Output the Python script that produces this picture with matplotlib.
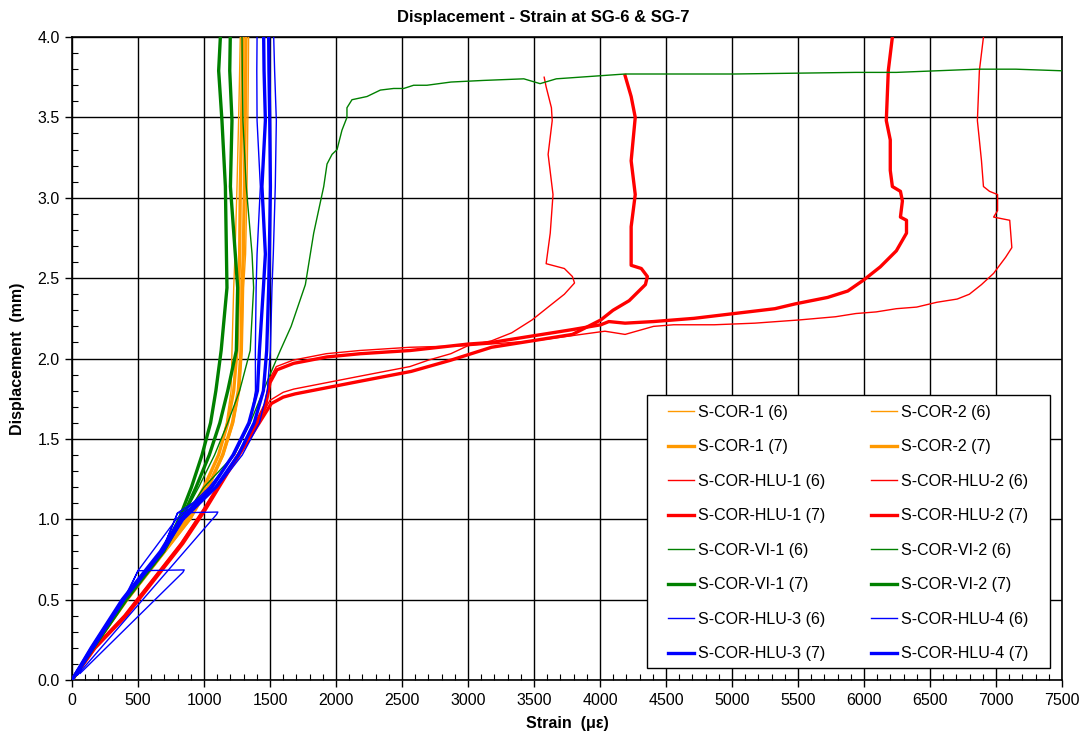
import matplotlib
matplotlib.use("Agg")
import matplotlib.pyplot as plt
from matplotlib.patches import Rectangle
from matplotlib.ticker import MultipleLocator, FormatStrFormatter

plt.rcParams["font.family"] = ["Liberation Sans", "DejaVu Sans"]

# ---- data (strain in micro-strain, displacement in mm) ----
lo_y = [0, 0.2, 0.5, 0.8, 1.0, 1.2, 1.4, 1.6, 1.8, 2.05, 2.44, 2.65, 3.07, 3.48, 3.79, 4.0]

cor1_6_x = [0, 160, 420, 700, 880, 1010, 1110, 1170, 1205, 1212, 1225, 1235, 1250, 1262, 1270, 1275]
cor1_7_x = [0, 155, 410, 690, 870, 1000, 1110, 1180, 1225, 1250, 1263, 1270, 1275, 1285, 1290, 1295]
cor2_6_x = [0, 165, 425, 710, 900, 1040, 1150, 1225, 1270, 1290, 1300, 1315, 1326, 1332, 1336, 1338]
cor2_7_x = [0, 160, 415, 700, 890, 1030, 1140, 1215, 1260, 1280, 1288, 1298, 1306, 1312, 1316, 1318]

vi1_7_x = [0, 160, 410, 690, 810, 905, 985, 1050, 1090, 1130, 1174, 1170, 1162, 1136, 1111, 1124]
vi2_7_x = [0, 160, 410, 695, 830, 940, 1040, 1120, 1180, 1245, 1255, 1237, 1200, 1212, 1195, 1199]
vi2_6_x = [0, 160, 405, 680, 830, 960, 1080, 1180, 1270, 1350, 1376, 1364, 1320, 1295, 1290, 1288]

vi1_6_x = [0, 165, 415, 690, 840, 1000, 1230, 1350, 1450, 1500, 1578, 1660, 1768, 1831, 1907, 1932,
           1970, 2008, 2045, 2083, 2083, 2121, 2235, 2336, 2437, 2513, 2588, 2689, 2871, 3117,
           3423, 3546, 3669, 4190, 5018, 5939, 6245, 6859, 7150, 7500]
vi1_6_y = [0, 0.2, 0.5, 0.8, 1.0, 1.2, 1.4, 1.6, 1.8, 1.9, 2.05, 2.2, 2.46, 2.78, 3.07, 3.21,
           3.27, 3.30, 3.42, 3.50, 3.56, 3.61, 3.63, 3.67, 3.68, 3.68, 3.70, 3.70, 3.72, 3.73,
           3.74, 3.71, 3.74, 3.77, 3.77, 3.78, 3.78, 3.80, 3.80, 3.79]

hlu3_7_x = [0, 145, 380, 670, 820, 1060, 1220, 1340, 1405, 1420, 1450, 1465, 1439, 1465, 1455, 1452]
hlu4_7_x = [0, 150, 390, 685, 840, 1090, 1260, 1380, 1450, 1475, 1490, 1495, 1503, 1498, 1492, 1490]

hlu3_6_x = [0, 150, 390, 500, 850, 840, 60, 70, 400, 500, 790, 1040, 1230, 1350, 1390, 1389,
            1395, 1402, 1427, 1402, 1400, 1402]
hlu3_6_y = [0, 0.2, 0.5, 0.68, 0.685, 0.67, 0.04, 0.08, 0.5, 0.68, 1.0, 1.2, 1.4, 1.6, 1.8, 2.05,
            2.44, 2.65, 3.07, 3.48, 3.79, 4.0]
hlu4_6_x = [0, 150, 395, 680, 800, 1105, 1095, 40, 60, 395, 680, 800, 1100, 1290, 1420, 1480,
            1503, 1515, 1525, 1540, 1548, 1535, 1528]
hlu4_6_y = [0, 0.2, 0.5, 0.8, 1.04, 1.045, 1.03, 0.03, 0.06, 0.5, 0.8, 1.04, 1.2, 1.4, 1.6, 1.8,
            2.05, 2.44, 2.65, 3.07, 3.48, 3.79, 4.0]

hlu1_6_x = [0, 170, 400, 620, 830, 1000, 1174, 1326, 1500, 1600, 1680, 1930, 2180, 2560, 2700,
            2870, 3000, 3178, 3331, 3485, 3607, 3730, 3807, 3791, 3730, 3592, 3623, 3644, 3607,
            3638, 3632, 3592, 3577]
hlu1_6_y = [0, 0.2, 0.4, 0.63, 0.85, 1.06, 1.29, 1.49, 1.74, 1.79, 1.81, 1.85, 1.89, 1.95, 1.99,
            2.03, 2.08, 2.11, 2.16, 2.24, 2.32, 2.40, 2.47, 2.51, 2.56, 2.59, 2.78, 3.02, 3.27,
            3.48, 3.56, 3.69, 3.75]
hlu1_7_x = [0, 175, 410, 630, 840, 1010, 1180, 1335, 1510, 1600, 1690, 1940, 2190, 2570, 2871,
            3178, 3485, 3791, 4006, 4098, 4221, 4344, 4359, 4313, 4236, 4236, 4267, 4236, 4267,
            4236, 4190]
hlu1_7_y = [0, 0.2, 0.4, 0.63, 0.85, 1.06, 1.29, 1.49, 1.72, 1.76, 1.78, 1.82, 1.86, 1.92, 1.99,
            2.07, 2.11, 2.15, 2.24, 2.30, 2.36, 2.46, 2.51, 2.56, 2.58, 2.82, 3.02, 3.23, 3.50,
            3.63, 3.76]
hlu2_7_x = [0, 170, 400, 620, 830, 1000, 1174, 1326, 1465, 1500, 1553, 1679, 1932, 2184, 2563,
            3000, 3178, 3485, 3791, 4006, 4067, 4190, 4405, 4712, 5018, 5325, 5479, 5724, 5877,
            6000, 6123, 6245, 6322, 6322, 6276, 6291, 6276, 6215, 6199, 6199, 6169, 6184, 6215]
hlu2_7_y = [0, 0.2, 0.4, 0.63, 0.85, 1.06, 1.29, 1.49, 1.70, 1.85, 1.93, 1.97, 2.01, 2.03, 2.05,
            2.09, 2.10, 2.14, 2.18, 2.21, 2.23, 2.22, 2.23, 2.25, 2.28, 2.31, 2.34, 2.38, 2.42,
            2.49, 2.57, 2.67, 2.78, 2.86, 2.88, 2.98, 3.04, 3.07, 3.17, 3.36, 3.48, 3.79, 4.0]
hlu2_6_x = [0, 165, 395, 615, 825, 995, 1170, 1320, 1460, 1495, 1548, 1675, 1925, 2180, 2560,
            3000, 3500, 4037, 4190, 4405, 4558, 4865, 5172, 5509, 5785, 5939, 6092, 6245, 6399,
            6552, 6706, 6798, 6890, 6982, 7073, 7120, 7104, 6982, 7012, 7012, 6951, 6905, 6890,
            6874, 6859, 6874, 6905]
hlu2_6_y = [0, 0.2, 0.4, 0.63, 0.85, 1.06, 1.29, 1.49, 1.72, 1.87, 1.95, 1.99, 2.03, 2.05, 2.07,
            2.08, 2.11, 2.17, 2.15, 2.20, 2.21, 2.21, 2.22, 2.24, 2.26, 2.28, 2.29, 2.31, 2.32,
            2.35, 2.37, 2.40, 2.46, 2.53, 2.63, 2.69, 2.86, 2.88, 2.92, 3.02, 3.04, 3.07, 3.23,
            3.36, 3.48, 3.79, 4.0]

ORANGE = "#FF9900"
RED = "#FF0000"
GREEN = "#008000"
BLUE = "#0000FF"
THIN = 1.0
THICK = 2.4

series = [
    ("S-COR-1 (6)", cor1_6_x, lo_y, ORANGE, THIN),
    ("S-COR-2 (6)", cor2_6_x, lo_y, ORANGE, THIN),
    ("S-COR-1 (7)", cor1_7_x, lo_y, ORANGE, THICK),
    ("S-COR-2 (7)", cor2_7_x, lo_y, ORANGE, THICK),
    ("S-COR-HLU-1 (6)", hlu1_6_x, hlu1_6_y, RED, THIN),
    ("S-COR-HLU-2 (6)", hlu2_6_x, hlu2_6_y, RED, THIN),
    ("S-COR-HLU-1 (7)", hlu1_7_x, hlu1_7_y, RED, THICK),
    ("S-COR-HLU-2 (7)", hlu2_7_x, hlu2_7_y, RED, THICK),
    ("S-COR-VI-1 (6)", vi1_6_x, vi1_6_y, GREEN, THIN),
    ("S-COR-VI-2 (6)", vi2_6_x, lo_y, GREEN, THIN),
    ("S-COR-VI-1 (7)", vi1_7_x, lo_y, GREEN, THICK),
    ("S-COR-VI-2 (7)", vi2_7_x, lo_y, GREEN, THICK),
    ("S-COR-HLU-3 (6)", hlu3_6_x, hlu3_6_y, BLUE, THIN),
    ("S-COR-HLU-4 (6)", hlu4_6_x, hlu4_6_y, BLUE, THIN),
    ("S-COR-HLU-3 (7)", hlu3_7_x, lo_y, BLUE, THICK),
    ("S-COR-HLU-4 (7)", hlu4_7_x, lo_y, BLUE, THICK),
]

fig = plt.figure(figsize=(10.86, 7.45), dpi=100)
ax = fig.add_axes([0.0663, 0.0872, 0.9116, 0.8631])

handles = {}
for label, xs, ys, color, lw in series:
    (ln,) = ax.plot(xs, ys, color=color, lw=lw, zorder=3, solid_joinstyle="round")
    handles[label] = ln

ax.set_xlim(0, 7500)
ax.set_ylim(0, 4.0)
ax.xaxis.set_major_locator(MultipleLocator(500))
ax.xaxis.set_minor_locator(MultipleLocator(100))
ax.yaxis.set_major_locator(MultipleLocator(0.5))
ax.yaxis.set_minor_locator(MultipleLocator(0.1))
ax.yaxis.set_major_formatter(FormatStrFormatter("%.1f"))
ax.grid(True, which="major", color="black", lw=1.0, zorder=1)
ax.set_axisbelow(True)
ax.tick_params(which="major", direction="out", length=5, width=1, labelsize=11.5, pad=4)
ax.tick_params(which="minor", direction="in", length=4, width=0.8)
for sp in ax.spines.values():
    sp.set_linewidth(1.2)

ax.set_xlabel("Strain  (\u03bc\u03b5)", fontsize=11.5, fontweight="bold", labelpad=6)
ax.set_ylabel("Displacement  (mm)", fontsize=11.5, fontweight="bold", labelpad=9)
fig.text(0.5, 0.976, "Displacement - Strain at SG-6 & SG-7", ha="center", va="center",
         fontsize=12, fontweight="bold")

# legend box
ax.add_patch(Rectangle((0.581, 0.0187), 0.407, 0.4245, transform=ax.transAxes,
                       facecolor="white", edgecolor="black", lw=1.0, zorder=5))
order = ["S-COR-1 (6)", "S-COR-1 (7)", "S-COR-HLU-1 (6)", "S-COR-HLU-1 (7)",
         "S-COR-VI-1 (6)", "S-COR-VI-1 (7)", "S-COR-HLU-3 (6)", "S-COR-HLU-3 (7)",
         "S-COR-2 (6)", "S-COR-2 (7)", "S-COR-HLU-2 (6)", "S-COR-HLU-2 (7)",
         "S-COR-VI-2 (6)", "S-COR-VI-2 (7)", "S-COR-HLU-4 (6)", "S-COR-HLU-4 (7)"]
leg = ax.legend([handles[k] for k in order], order, ncol=2, loc="upper left",
                bbox_to_anchor=(0.602, 0.428), frameon=False, fontsize=11.5,
                borderpad=0, borderaxespad=0, handlelength=1.6, handletextpad=0.3,
                labelspacing=1.22, columnspacing=2.85)
leg.set_zorder(6)

fig.savefig("out.png", dpi=100)
